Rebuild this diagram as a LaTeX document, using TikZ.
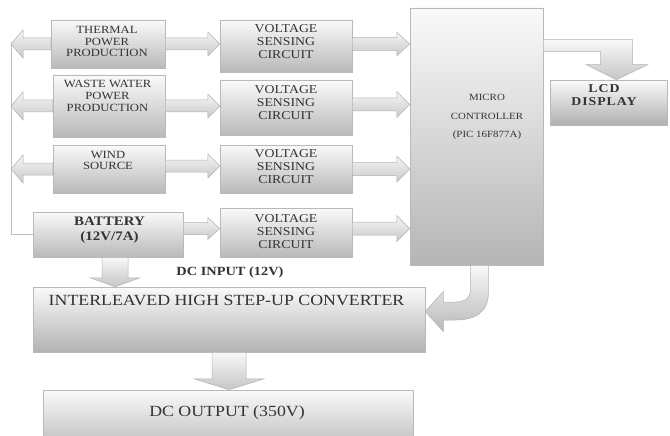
\documentclass[tikz,border=0pt]{standalone}
\usepackage{fontspec}
\setmainfont{Liberation Serif}[FakeStretch=1.15]
\usetikzlibrary{calc}
\newcommand\fsrc{\fontsize{11}{11.8}\selectfont}
\newcommand\fvs{\fontsize{12}{13}\selectfont}
\newcommand\fmc{\fontsize{9.5}{18.5}\selectfont}
\newcommand\flcd{\fontsize{12}{12.5}\selectfont\bfseries\addfontfeatures{LetterSpace=8}}
\newcommand\fbat{\fontsize{13}{15}\selectfont\bfseries}
\newcommand\fbig{\fontsize{15.5}{17}\selectfont}
\newcommand\fin{\fontsize{12.5}{14}\selectfont\bfseries}
% horizontal block arrow: start, end, shaft half, head half, head length, style
\newcommand\harrow[6]{%
  \path[#6] let \p1=#1, \p2=#2, \n1={sign(\x2-\x1)} in
   (\x1,{\y1+#3}) -- ({\x2-(\n1)*#5},{\y1+#3}) -- ({\x2-(\n1)*#5},{\y1+#4})
   -- (\x2,\y1) -- ({\x2-(\n1)*#5},{\y1-#4}) -- ({\x2-(\n1)*#5},{\y1-#3})
   -- (\x1,{\y1-#3}) -- cycle;}
% vertical block arrow
\newcommand\varrow[6]{%
  \path[#6] let \p1=#1, \p2=#2, \n1={sign(\y2-\y1)} in
   ({\x1-#3},\y1) -- ({\x1-#3},{\y2-(\n1)*#5}) -- ({\x1-#4},{\y2-(\n1)*#5})
   -- (\x1,\y2) -- ({\x1+#4},{\y2-(\n1)*#5}) -- ({\x1+#3},{\y2-(\n1)*#5})
   -- ({\x1+#3},\y1) -- cycle;}
\tikzset{
  box/.style={rectangle, draw=gray!55, line width=0.5pt, top color=gray!4,
    bottom color=gray!55, inner sep=0pt},
  barrow/.style={draw=gray!60, line width=0.5pt, top color=gray!8, bottom color=gray!42},
  varrowst/.style={draw=gray!60, line width=0.5pt, top color=gray!5, bottom color=gray!45},
  txt/.style={align=center, inner sep=0pt, text=black!80},
  busline/.style={draw=gray!50, line width=0.8pt},
}
\begin{document}
\begin{tikzpicture}[x=1pt,y=-1pt]
\path[fill=white] (0,0) rectangle (670,436);
\useasboundingbox (0,0) rectangle (670,436);

% boxes
\node[box, minimum width=114pt, minimum height=48pt] (th) at (108,44) {};
\node[box, minimum width=112pt, minimum height=62pt] (ww) at (109,106) {};
\node[box, minimum width=112pt, minimum height=48pt] (wi) at (109,169) {};
\node[box, minimum width=150pt, minimum height=45pt] (bat) at (108,234.5) {};
\node[box, minimum width=132pt, minimum height=52pt] (vs1) at (286,46) {};
\node[box, minimum width=132pt, minimum height=55pt] (vs2) at (286,107.5) {};
\node[box, minimum width=132pt, minimum height=48pt] (vs3) at (286,169) {};
\node[box, minimum width=132pt, minimum height=49pt] (vs4) at (286,232.5) {};
\node[box, minimum width=133pt, minimum height=257pt, bottom color=gray!58] (mc) at (476.5,136.5) {};
\node[box, minimum width=117pt, minimum height=45pt, bottom color=gray!62] (lcd) at (608.5,102.5) {};
\node[box, minimum width=392pt, minimum height=65pt, bottom color=gray!60] (conv) at (229,319.5) {};
\node[box, minimum width=370pt, minimum height=46pt, bottom color=gray!42] (out) at (228,413) {};

% texts
\node[txt, font=\fsrc] (thT) at (107,41.5) {THERMAL\\POWER\\PRODUCTION};
\node[txt, font=\fsrc] (wwT) at (107.5,96) {WASTE WATER\\POWER\\PRODUCTION};
\node[txt, font=\fsrc] (wiT) at (108,160.5) {WIND\\SOURCE};
\node[txt, font=\fbat] (batT) at (109.5,230.5) {BATTERY\\(12V/7A)};
\node[txt, font=\fvs] (vs1T) at (286,42) {VOLTAGE\\SENSING\\CIRCUIT};
\node[txt, font=\fvs] (vs2T) at (286,102.5) {VOLTAGE\\SENSING\\CIRCUIT};
\node[txt, font=\fvs] (vs3T) at (286,167) {VOLTAGE\\SENSING\\CIRCUIT};
\node[txt, font=\fvs] (vs4T) at (286,232) {VOLTAGE\\SENSING\\CIRCUIT};
\node[txt, font=\fmc] (mcT) at (487,117) {MICRO\\CONTROLLER\\(PIC 16F877A)};
\node[txt, font=\flcd] (lcdT) at (604,95) {LCD\\DISPLAY};
\node[txt, font=\fbig] (convT) at (226.5,300) {INTERLEAVED HIGH STEP-UP CONVERTER};
\node[txt, font=\fin] (inT) at (230,272) {DC INPUT (12V)};
\node[txt, font=\fbig] (outT) at (227,413) {DC OUTPUT (350V)};

% helper coordinates
\coordinate (busT) at (11,42);
\coordinate (wiA) at ($(wi.east)+(0,-3)$);
\coordinate (batA) at ($(bat.east)+(0,-6)$);
\coordinate (vs1A) at ($(vs1.east)+(0,-2)$);
\coordinate (vs2A) at ($(vs2.east)+(0,-3)$);
\coordinate (vs4A) at ($(vs4.east)+(0,-4)$);
\coordinate (batC) at ($(bat.south)+(7,0)$);
\coordinate (mcA) at ($(mc.north east)+(0,32)$);
\coordinate (lcdP) at ($(lcd.north)+(8,0)$);
\coordinate (mcB) at ($(mc.south)+(3,0)$);
\coordinate (convP) at ($(conv.east)+(0,-8)$);

% feedback line on the left
\draw[busline] (bat.west) -| (busT);

% arrows to the left line
\harrow{(th.west)}{(th.west -| busT)}{6pt}{14pt}{12pt}{barrow}
\harrow{(ww.west)}{(ww.west -| busT)}{6pt}{14pt}{12pt}{barrow}
\harrow{(wi.west)}{(wi.west -| busT)}{6pt}{14pt}{12pt}{barrow}

% sources to sensing circuits
\harrow{(th.east)}{(th.east -| vs1.west)}{6pt}{12pt}{12pt}{barrow}
\harrow{(ww.east)}{(ww.east -| vs2.west)}{6pt}{12pt}{12pt}{barrow}
\harrow{(wiA)}{(wiA -| vs3.west)}{6pt}{12pt}{12pt}{barrow}
\harrow{(batA)}{(batA -| vs4.west)}{6pt}{11pt}{12pt}{barrow}

% sensing circuits to microcontroller
\harrow{(vs1A)}{(vs1A -| mc.west)}{6.5pt}{12pt}{13pt}{barrow}
\harrow{(vs2A)}{(vs2A -| mc.west)}{6.5pt}{13pt}{13pt}{barrow}
\harrow{(vs3.east)}{(vs3.east -| mc.west)}{6.5pt}{13pt}{13pt}{barrow}
\harrow{(vs4A)}{(vs4A -| mc.west)}{6.5pt}{13pt}{13pt}{barrow}

% battery to converter, converter to output
\varrow{(batC)}{(batC |- conv.north)}{13pt}{25pt}{9pt}{varrowst}
\varrow{(conv.south)}{(conv.south |- out.north)}{17pt}{35pt}{11pt}{varrowst}

% microcontroller to LCD (bent arrow)
\path[varrowst] let \p1=(mcA), \p2=(lcdP) in
  (\x1,\y1) -- ({\x2+16pt},\y1) -- ({\x2+16pt},{\y2+15pt}) -- ({\x2+31pt},{\y2+15pt})
  -- (\x2,\y2) -- ({\x2-30pt},{\y2+15pt}) -- ({\x2-16pt},{\y2+15pt})
  -- ({\x2-16pt},{\y1-12pt}) -- (\x1,{\y1-12pt}) -- cycle;

% microcontroller to converter (curved arrow)
\path[draw=gray!60, line width=0.5pt, top color=gray!5, bottom color=gray!55]
  let \p1=(mcB), \p2=(convP) in
  ({\x1+9pt},\y1) -- ({\x1+9pt},{\y1-27pt})
  .. controls ({\x1+9pt},{\y1-47pt}) and ({\x1-4pt},{\y2-8.5pt}) .. ({\x1-24pt},{\y2-8.5pt})
  -- ({\x2+18pt},{\y2-8.5pt}) -- ({\x2+18pt},{\y2-20pt}) -- (\x2,\y2)
  -- ({\x2+18pt},{\y2+20pt}) -- ({\x2+18pt},{\y2+9.5pt}) -- ({\x1-24pt},{\y2+9.5pt})
  .. controls ({\x1-14pt},{\y2+9.5pt}) and ({\x1-9pt},{\y1-32pt}) .. ({\x1-9pt},{\y1-25pt})
  -- ({\x1-9pt},\y1) -- cycle;
\end{tikzpicture}
\end{document}
